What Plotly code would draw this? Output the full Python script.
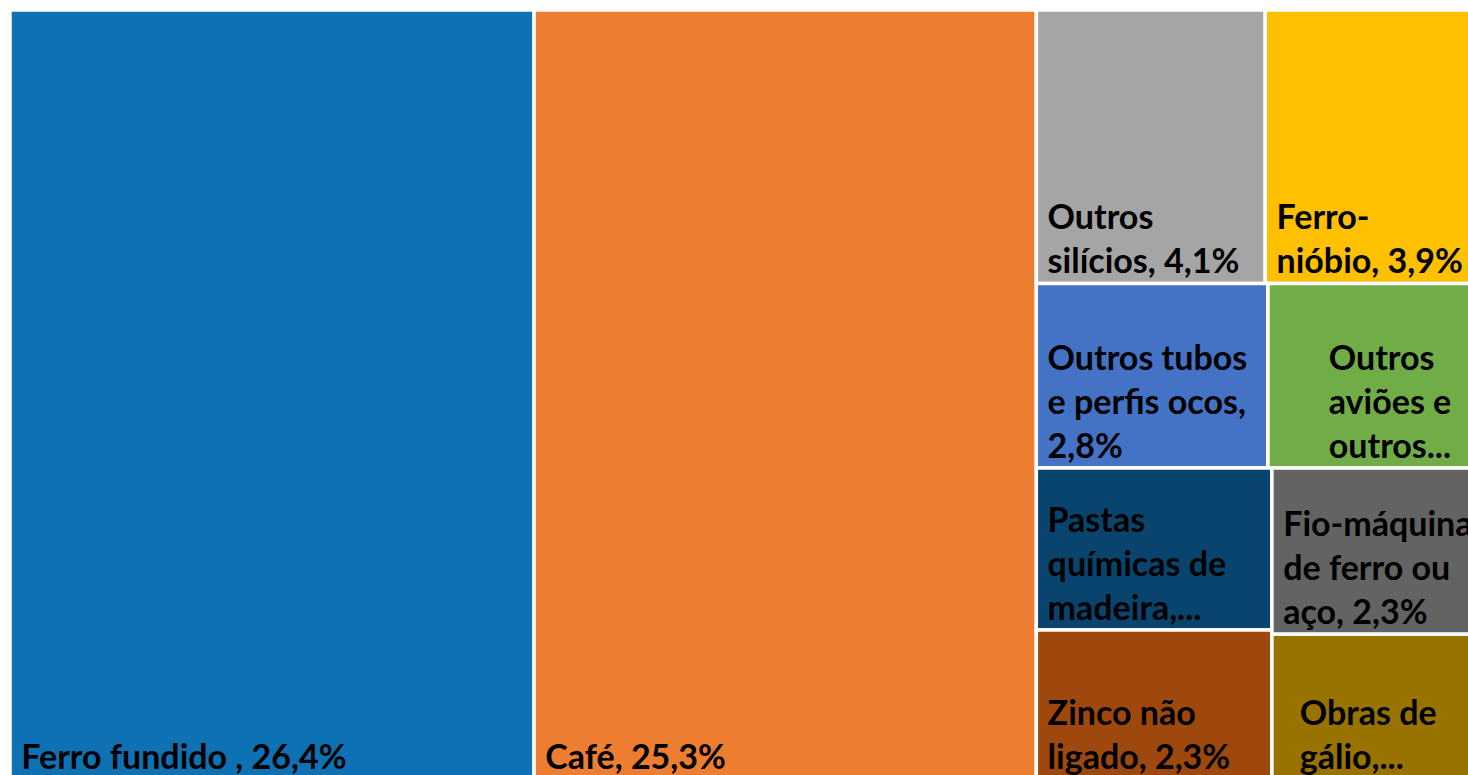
import plotly.graph_objects as go

names = ["Ferro fundido", "Café", "Outros silícios", "Ferro-nióbio",
         "Outros tubos e perfis ocos", "Outros aviões e outros veículos aéreos",
         "Pastas químicas de madeira", "Zinco não ligado",
         "Fio-máquina de ferro ou aço", "Obras de gálio"]
values = [26.4, 25.3, 4.1, 3.9, 2.8, 2.6, 2.5, 2.3, 2.3, 2.0]
label_lines = [["Ferro fundido , 26,4%"], ["Café, 25,3%"],
               ["Outros", "silícios, 4,1%"], ["Ferro-", "nióbio, 3,9%"],
               ["Outros tubos", "e perfis ocos,", "2,8%"],
               ["Outros", "aviões e", "outros..."],
               ["Pastas", "químicas de", "madeira,..."],
               ["Zinco não", "ligado, 2,3%"],
               ["Fio-máquina", "de ferro ou", "aço, 2,3%"],
               ["Obras de", "gálio,..."]]
indent = [1, 1, 1, 1, 1, 7, 1, 1, 1, 3]
colors = ["#0E71B4", "#ED7D31", "#A5A5A5", "#FFC000", "#4472C4", "#70AD47",
          "#09446E", "#9E480E", "#636363", "#997300"]

display = ["<br>".join("\u00a0" * n + ln for ln in lines)
           for lines, n in zip(label_lines, indent)]

fig = go.Figure(go.Treemap(
    labels=names,
    parents=[""] * len(names),
    values=values,
    text=display,
    texttemplate="%{text}",
    textposition="bottom left",
    textfont=dict(family="Lato", size=34, color="#000000", weight="bold"),
    marker=dict(colors=colors, line=dict(color="white", width=3.5),
                pad=dict(t=0, l=0, r=0, b=0)),
    tiling=dict(packing="squarify", squarifyratio=1, pad=0),
    pathbar=dict(visible=False),
    sort=True,
    hoverinfo="none",
))
fig.update_layout(
    width=1483, height=779,
    margin=dict(l=10, t=10, r=0, b=0),
    paper_bgcolor="white",
    uniformtext=dict(minsize=34, mode="show"),
)
fig.write_html(
    "out.html",
    config={"displayModeBar": False},
    post_script="document.documentElement.style.overflow='hidden';"
                "document.body.style.margin='0';"
                "document.body.style.overflow='hidden';",
)
